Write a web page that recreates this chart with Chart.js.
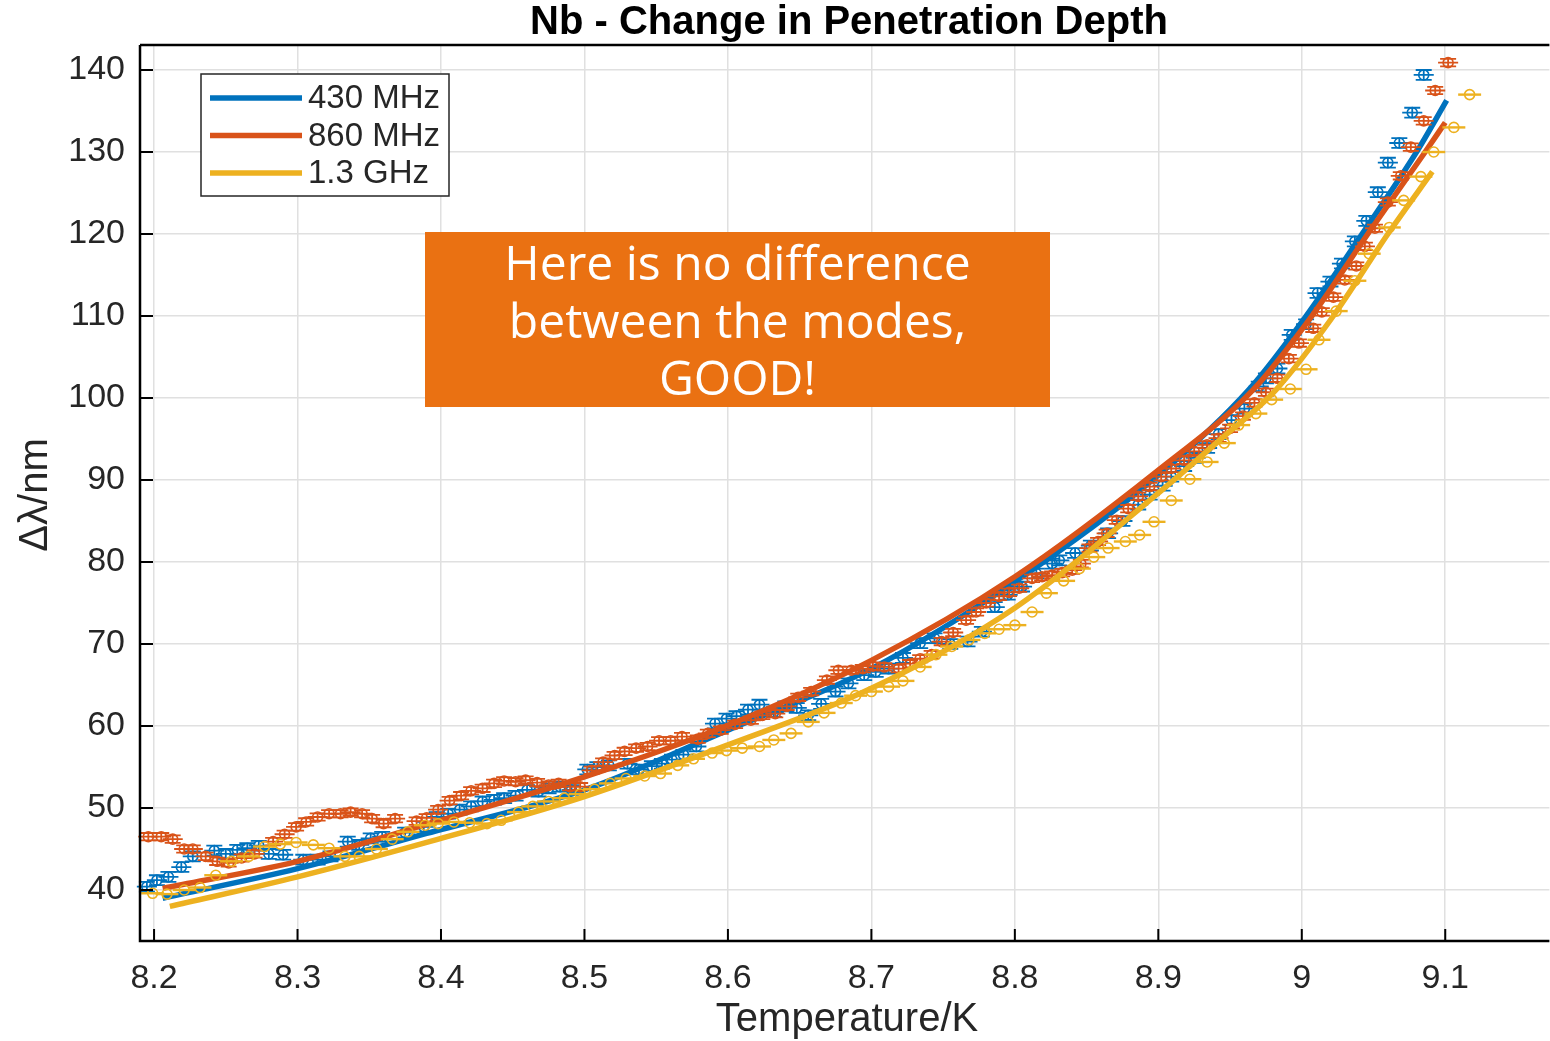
<!DOCTYPE html>
<html>
<head>
<meta charset="utf-8">
<script src="https://cdn.jsdelivr.net/npm/chart.js@4.4.1/dist/chart.umd.min.js"></script>
<style>
  body { margin: 0; background: #fff; overflow: hidden; }
  #wrap { position: relative; width: 1550px; height: 1041px; overflow: hidden; }
  #note {
    position: absolute; left: 425px; top: 232px; width: 625px; height: 175px;
    background: #ea7112; color: #fff; font-family: "Open Sans", sans-serif;
    font-size: 48px; line-height: 57.5px; text-align: center;
    display: flex; align-items: center; justify-content: center;
  }
</style>
</head>
<body>
<div id="wrap">
  <canvas id="plotarea" width="1556" height="1041"></canvas>
  <div id="note"><div>Here is no difference<br>between the modes,<br>GOOD!</div></div>
</div>
<script>
// ---- labels ----
const chartTitle = 'Nb - Change in Penetration Depth';
const xLabel = 'Temperature/K';
const yLabel = 'Δλ/nm';
const seriesNames = ['430 MHz', '860 MHz', '1.3 GHz'];
const seriesColors = ['#0072bd', '#d95319', '#edb120'];

// ---- measured points (T in K, delta lambda in nm) ----
const t430 = [8.195, 8.202, 8.210, 8.219, 8.227, 8.242, 8.250, 8.258, 8.265, 8.273, 8.280, 8.290, 8.304, 8.314, 8.323,
  8.335, 8.343, 8.351, 8.359, 8.375, 8.388, 8.397, 8.405, 8.413, 8.421, 8.429, 8.437, 8.444, 8.452, 8.460, 8.468, 8.475,
  8.483, 8.491, 8.502, 8.509, 8.517, 8.530, 8.538, 8.547, 8.554, 8.561, 8.569, 8.578, 8.591, 8.599, 8.606, 8.614, 8.622,
  8.632, 8.640, 8.648, 8.656, 8.665, 8.675, 8.684, 8.695, 8.703, 8.712, 8.722, 8.734, 8.744, 8.755, 8.767, 8.777, 8.786,
  8.795, 8.805, 8.815, 8.826, 8.831, 8.842, 8.853, 8.865, 8.875, 8.886, 8.894, 8.903, 8.909, 8.918, 8.926, 8.934, 8.942,
  8.951, 8.960, 8.970, 8.975, 8.983, 8.993, 9.003, 9.011, 9.020, 9.028, 9.037, 9.045, 9.053, 9.060, 9.068, 9.077, 9.085];
const d430 = [40.4, 41.2, 41.6, 42.8, 44.1, 44.8, 44.4, 44.9, 45.1, 45.4, 44.4, 44.3, 43.7, 43.7, 44.1,
  45.9, 45.5, 46.3, 46.5, 47.0, 47.7, 48.9, 49.3, 49.8, 50.2, 50.8, 51.0, 51.2, 51.5, 52.2, 52.0, 52.4,
  52.6, 52.2, 54.7, 55.0, 55.2, 55.4, 54.7, 55.1, 55.4, 55.9, 56.5, 57.5, 60.3, 60.9, 61.2, 62.0, 62.6,
  61.7, 62.4, 62.2, 61.3, 62.7, 64.2, 65.2, 66.2, 66.6, 67.0, 68.3, 70.1, 70.7, 70.0, 70.3, 71.5, 74.5,
  76.0, 77.0, 78.6, 79.8, 80.2, 81.1, 82.0, 83.5, 85.0, 87.0, 88.2, 89.3, 90.4, 91.7, 92.7, 93.9, 95.6,
  97.3, 98.7, 101.4, 102.4, 103.6, 107.7, 109.0, 112.8, 114.2, 116.4, 119.1, 121.6, 125.1, 128.7, 131.1, 134.8, 139.4];

const t860 = [8.196, 8.205, 8.213, 8.221, 8.227, 8.236, 8.244, 8.252, 8.261, 8.270, 8.283, 8.291, 8.299, 8.306, 8.314,
  8.322, 8.330, 8.337, 8.345, 8.352, 8.360, 8.368, 8.383, 8.390, 8.398, 8.406, 8.414, 8.421, 8.429, 8.437, 8.444, 8.452,
  8.459, 8.467, 8.475, 8.482, 8.490, 8.497, 8.505, 8.513, 8.521, 8.528, 8.536, 8.544, 8.552, 8.560, 8.568, 8.579, 8.586,
  8.595, 8.605, 8.616, 8.624, 8.633, 8.641, 8.649, 8.658, 8.669, 8.677, 8.686, 8.694, 8.701, 8.709, 8.719, 8.727, 8.734,
  8.742, 8.749, 8.757, 8.766, 8.773, 8.780, 8.789, 8.796, 8.803, 8.812, 8.819, 8.826, 8.833, 8.840, 8.846, 8.852, 8.858,
  8.864, 8.871, 8.879, 8.886, 8.894, 8.902, 8.909, 8.918, 8.925, 8.934, 8.942, 8.950, 8.959, 8.967, 8.975, 8.983, 8.991,
  8.998, 9.008, 9.014, 9.022, 9.030, 9.038, 9.044, 9.051, 9.060, 9.069, 9.076, 9.085, 9.093, 9.102];
const d860 = [46.5, 46.5, 46.2, 45.0, 45.0, 44.1, 43.5, 43.3, 43.9, 44.4, 45.9, 46.8, 47.7, 48.3, 48.9,
  49.3, 49.3, 49.5, 49.3, 48.7, 48.1, 48.7, 48.4, 48.8, 49.8, 50.9, 51.5, 52.1, 52.4, 53.0, 53.3, 53.2,
  53.4, 53.1, 52.8, 53.0, 52.6, 52.6, 54.6, 55.6, 56.4, 56.9, 57.3, 57.5, 58.2, 58.2, 58.7, 58.4, 59.1,
  59.5, 60.2, 60.7, 61.3, 61.5, 62.4, 63.5, 64.2, 65.6, 66.8, 66.8, 67.0, 67.3, 67.2, 67.0, 67.6, 68.2,
  68.7, 70.3, 71.4, 72.9, 73.9, 75.0, 75.8, 76.3, 76.8, 78.0, 78.2, 78.4, 78.7, 79.0, 79.8, 81.7, 82.5,
  83.5, 85.1, 86.5, 88.0, 89.2, 90.4, 91.4, 92.4, 93.5, 94.3, 95.1, 96.3, 97.8, 99.4, 100.7, 102.4, 104.8,
  106.7, 108.5, 110.5, 112.3, 114.4, 116.1, 118.5, 120.7, 123.9, 127.1, 130.6, 133.8, 137.5, 140.9];

const t1300 = [8.199, 8.209, 8.221, 8.232, 8.243, 8.254, 8.266, 8.277, 8.288, 8.299, 8.311, 8.322, 8.333, 8.343, 8.355,
  8.366, 8.377, 8.389, 8.398, 8.409, 8.420, 8.432, 8.442, 8.454, 8.464, 8.475, 8.486, 8.497, 8.507, 8.518, 8.529, 8.542,
  8.553, 8.565, 8.576, 8.589, 8.599, 8.610, 8.622, 8.632, 8.644, 8.656, 8.667, 8.679, 8.689, 8.700, 8.712, 8.722, 8.734,
  8.745, 8.756, 8.768, 8.779, 8.789, 8.800, 8.812, 8.822, 8.834, 8.845, 8.855, 8.865, 8.877, 8.887, 8.897, 8.909, 8.922,
  8.934, 8.946, 8.956, 8.968, 8.979, 8.992, 9.003, 9.012, 9.024, 9.037, 9.047, 9.061, 9.071, 9.083, 9.092, 9.106, 9.117];
const d1300 = [39.6, 39.5, 40.0, 40.3, 41.8, 43.5, 44.1, 45.3, 45.6, 45.8, 45.5, 45.1, 44.1, 44.1, 45.0,
  46.2, 47.1, 47.9, 48.1, 48.3, 48.2, 48.1, 48.5, 49.5, 50.2, 50.8, 51.2, 51.7, 52.3, 53.0, 53.6, 53.9,
  54.2, 55.2, 56.0, 56.7, 57.0, 57.3, 57.5, 58.3, 59.1, 60.5, 61.6, 62.8, 63.7, 64.2, 64.8, 65.5, 67.2,
  68.7, 69.7, 70.5, 71.3, 71.8, 72.3, 73.9, 76.2, 77.7, 79.2, 80.6, 81.7, 82.5, 83.3, 84.9, 87.5, 90.1,
  92.2, 94.5, 96.7, 98.1, 99.8, 101.1, 103.5, 107.1, 110.6, 114.3, 117.6, 120.8, 124.1, 127.0, 130.0, 133.0, 137.0];

// error bar half widths (K) and heights (nm)
const errT = [0.007, 0.007, 0.008];
const errD = [0.6, 0.45, 0];

// ---- fitted curves ----
const fitT430 = [8.206, 8.300, 8.390, 8.500, 8.600, 8.700, 8.800, 8.900, 8.963, 9.003, 9.042, 9.080, 9.101];
const fitD430 = [39.0, 42.6, 46.9, 52.2, 59.5, 67.0, 77.6, 90.6, 101.0, 110.0, 120.0, 130.0, 136.3];
const fitT860 = [8.206, 8.300, 8.390, 8.500, 8.600, 8.700, 8.800, 8.900, 8.966, 9.007, 9.046, 9.086, 9.100];
const fitD860 = [40.2, 43.5, 48.0, 53.8, 60.1, 68.0, 78.2, 91.2, 101.0, 110.0, 120.0, 130.0, 133.6];
const fitT1300 = [8.211, 8.300, 8.390, 8.500, 8.600, 8.700, 8.800, 8.900, 8.943, 8.982, 9.022, 9.060, 9.091];
const fitD1300 = [38.0, 41.6, 45.8, 51.4, 57.7, 64.6, 74.4, 88.4, 94.9, 101.0, 110.0, 120.0, 127.6];

// axis ranges / ticks
const xMin = 8.1902, xMax = 9.1726;
const yMin = 33.78, yMax = 143.05;
const xStep = 0.1, yStep = 10;

const measT = [t430, t860, t1300];
const measD = [d430, d860, d1300];
const fitT = [fitT430, fitT860, fitT1300];
const fitD = [fitD430, fitD860, fitD1300];

const pts = (xs, ys) => xs.map((x, i) => ({ x: x, y: ys[i] }));
const FONT = '"Liberation Sans", Arial, sans-serif';
const TXT = '#262626';

const datasets = [];
for (let i = 0; i < 3; i++) {
  datasets.push({
    type: 'scatter',
    label: seriesNames[i] + ' data',
    data: pts(measT[i], measD[i]),
    borderColor: seriesColors[i],
    backgroundColor: 'rgba(0,0,0,0)',
    pointRadius: 5,
    pointBorderWidth: 1.6,
    pointHoverRadius: 5,
    errX: errT[i],
    errY: errD[i],
    order: 6 - 2 * i
  });
  datasets.push({
    type: 'line',
    label: seriesNames[i],
    data: pts(fitT[i], fitD[i]),
    borderColor: seriesColors[i],
    borderWidth: 5.5,
    pointRadius: 0,
    fill: false,
    cubicInterpolationMode: 'monotone',
    order: 5 - 2 * i
  });
}

// horizontal / vertical error bars
const errorBars = {
  id: 'errorBars',
  afterDatasetDraw(chart, args) {
    const ds = chart.data.datasets[args.index];
    if (!ds.errX) return;
    const xs = chart.scales.x, ys = chart.scales.y, ctx = chart.ctx;
    ctx.save();
    ctx.strokeStyle = ds.borderColor;
    ctx.lineWidth = ds.errY ? 1.8 : 2.4;
    ds.data.forEach(p => {
      const px = xs.getPixelForValue(p.x), py = ys.getPixelForValue(p.y);
      ctx.beginPath();
      ctx.moveTo(xs.getPixelForValue(p.x - ds.errX), py);
      ctx.lineTo(xs.getPixelForValue(p.x + ds.errX), py);
      if (ds.errY) {
        const y0 = ys.getPixelForValue(p.y - ds.errY), y1 = ys.getPixelForValue(p.y + ds.errY);
        ctx.moveTo(px, y0); ctx.lineTo(px, y1);
        ctx.moveTo(px - 8, y0); ctx.lineTo(px + 8, y0);
        ctx.moveTo(px - 8, y1); ctx.lineTo(px + 8, y1);
      }
      ctx.stroke();
    });
    ctx.restore();
  }
};

// frame, inner ticks, title, axis labels, legend
const decorations = {
  id: 'decorations',
  afterDraw(chart) {
    const ctx = chart.ctx, a = chart.chartArea;
    const xs = chart.scales.x, ys = chart.scales.y;
    ctx.save();
    // box
    ctx.strokeStyle = '#000';
    ctx.lineWidth = 2.5;
    ctx.beginPath();
    ctx.moveTo(a.left, a.top); ctx.lineTo(a.right, a.top);
    ctx.moveTo(a.left, a.top); ctx.lineTo(a.left, a.bottom); ctx.lineTo(a.right, a.bottom);
    ctx.stroke();
    // inward ticks
    ctx.lineWidth = 2;
    ctx.beginPath();
    xs.ticks.forEach(t => {
      const px = xs.getPixelForValue(t.value);
      ctx.moveTo(px, a.bottom); ctx.lineTo(px, a.bottom - 12);
    });
    ys.ticks.forEach(t => {
      const py = ys.getPixelForValue(t.value);
      ctx.moveTo(a.left, py); ctx.lineTo(a.left + 13, py);
    });
    ctx.stroke();

    // title
    ctx.fillStyle = '#000';
    ctx.font = 'bold 40px ' + FONT;
    ctx.textAlign = 'center';
    ctx.textBaseline = 'middle';
    ctx.fillText(chartTitle, 849, 23);

    // axis labels
    ctx.fillStyle = TXT;
    ctx.font = '40px ' + FONT;
    ctx.fillText(xLabel, 847, 1020);
    ctx.save();
    ctx.translate(36, 495);
    ctx.rotate(-Math.PI / 2);
    ctx.fillText(yLabel, 0, 0);
    ctx.restore();

    // legend
    ctx.fillStyle = '#fff';
    ctx.fillRect(201, 74, 248, 122);
    ctx.strokeStyle = '#262626';
    ctx.lineWidth = 1.5;
    ctx.strokeRect(201, 74, 248, 122);
    ctx.font = '33px ' + FONT;
    ctx.textAlign = 'left';
    for (let i = 0; i < 3; i++) {
      const ly = 98 + i * 37.5;
      ctx.strokeStyle = seriesColors[i];
      ctx.lineWidth = 5.5;
      ctx.beginPath(); ctx.moveTo(210, ly); ctx.lineTo(302, ly); ctx.stroke();
      ctx.fillStyle = TXT;
      ctx.fillText(seriesNames[i], 308, ly + 1);
    }
    ctx.restore();
  }
};

const config = {
  data: { datasets: datasets },
  options: {
    responsive: false,
    animation: false,
    layout: { padding: { top: 45, right: 2, left: 0, bottom: 0 } },
    plugins: { legend: { display: false }, tooltip: { enabled: false }, title: { display: false } },
    scales: {
      x: {
        type: 'linear', min: xMin, max: xMax,
        afterFit: s => { s.height = 100; },
        grid: { color: '#e0e0e0', lineWidth: 1.5, drawTicks: false },
        border: { display: false },
        ticks: {
          stepSize: xStep, includeBounds: false, padding: 17,
          color: TXT, font: { family: FONT, size: 34 },
          callback: v => String(parseFloat(v.toFixed(2)))
        }
      },
      y: {
        type: 'linear', min: yMin, max: yMax,
        afterFit: s => { s.width = 140; },
        grid: { color: '#e0e0e0', lineWidth: 1.5, drawTicks: false },
        border: { display: false },
        ticks: {
          stepSize: yStep, includeBounds: false, padding: 15,
          color: TXT, font: { family: FONT, size: 34 },
          callback: v => String(Math.round(v))
        }
      }
    }
  },
  plugins: [errorBars, decorations]
};

const myChart = new Chart(document.getElementById('plotarea'), config);
</script>
</body>
</html>
